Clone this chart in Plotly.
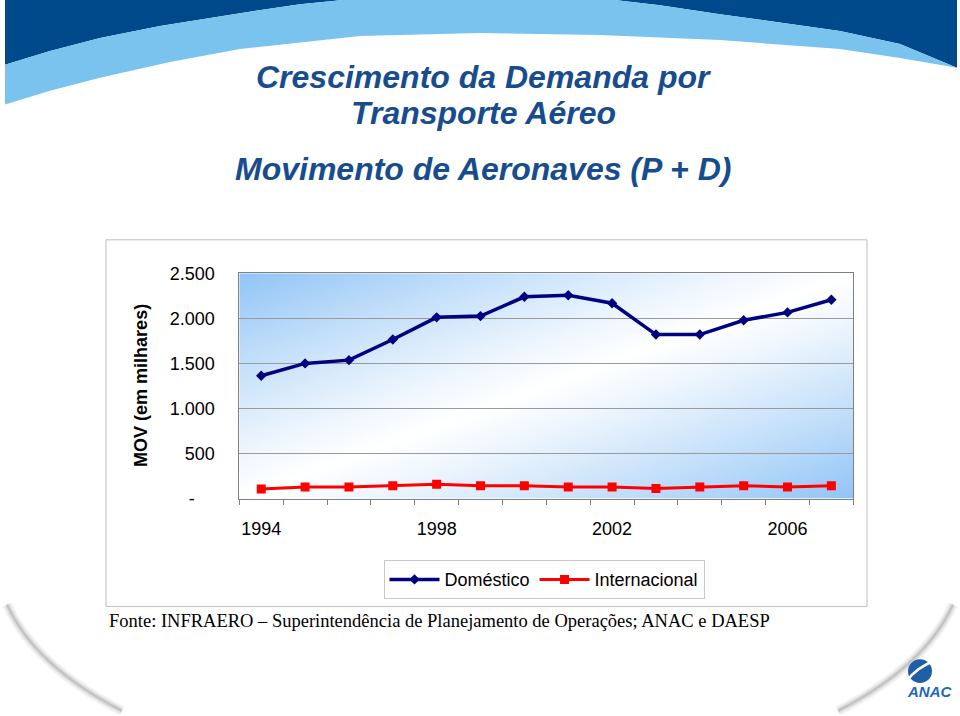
import zlib, struct, base64
import numpy as np
import plotly.graph_objects as go

# ---------------- data ----------------
YEARS = [1994, 1995, 1996, 1997, 1998, 1999, 2000, 2001, 2002, 2003, 2004, 2005, 2006, 2007]
DOMESTICO = [1363, 1500, 1536, 1765, 2011, 2025, 2239, 2257, 2168, 1820, 1820, 1978, 2066, 2206]
INTERNACIONAL = [106, 128, 128, 143, 158, 143, 143, 128, 128, 110, 128, 143, 128, 143]
X_TICKS = [1994, 1998, 2002, 2006]
X_TICK_LABELS = ["1994", "1998", "2002", "2006"]
Y_TICKS = [0, 500, 1000, 1500, 2000, 2500]
Y_TICK_LABELS = ["-\u00a0\u00a0\u00a0\u00a0", "500", "1.000", "1.500", "2.000", "2.500"]

W, H = 960, 716
SANS = "Liberation Sans, Arial, sans-serif"
SERIF = "Liberation Serif, Times New Roman, serif"
TITLE_BLUE = "#174C8E"
DARK_BLUE = "#004A8C"
LIGHT_BLUE = "#79C3EE"

# vertical calibration (observed: rendered y ~= 0.978*y + 7.8)
VS, VO = 0.978, 7.8


def px(x):
    return x / W


def py(y):
    return 1 - ((y - VO) / VS) / H


def path(points, close=True):
    s = "M " + " L ".join(f"{px(x):.5f},{py(y):.5f}" for x, y in points)
    return s + (" Z" if close else "")


# ---------------- gradient background for plot area ----------------
def make_png(arr):
    h, w, _ = arr.shape
    raw = b"".join(b"\x00" + arr[i].astype(np.uint8).tobytes() for i in range(h))

    def chunk(t, d):
        return struct.pack(">I", len(d)) + t + d + struct.pack(">I", zlib.crc32(t + d) & 0xFFFFFFFF)

    return (b"\x89PNG\r\n\x1a\n"
            + chunk(b"IHDR", struct.pack(">IIBBBBB", w, h, 8, 2, 0, 0, 0))
            + chunk(b"IDAT", zlib.compress(raw, 9))
            + chunk(b"IEND", b""))


gw, gh = 308, 114
u = np.linspace(0, 1, gw)[None, :]
v = np.linspace(0, 1, gh)[:, None]
t = (u + v) / 2
f = np.clip(np.abs(t - 0.5) * 2, 0, 1) ** 1.15
blue = np.array([146, 197, 246], dtype=float)
white = np.array([255, 255, 255], dtype=float)
img = white[None, None, :] * (1 - f[..., None]) + blue[None, None, :] * f[..., None]
png_uri = "data:image/png;base64," + base64.b64encode(make_png(np.round(img))).decode()

# ---------------- figure ----------------
fig = go.Figure()
fig.add_trace(go.Scatter(
    x=YEARS, y=DOMESTICO, name="Doméstico", mode="lines+markers",
    line=dict(color="#000080", width=3.5),
    marker=dict(symbol="diamond", size=8, color="#000080"),
))
fig.add_trace(go.Scatter(
    x=YEARS, y=INTERNACIONAL, name="Internacional", mode="lines+markers",
    line=dict(color="#FF0000", width=3),
    marker=dict(symbol="square", size=9, color="#FF0000"),
))

upper = [(5, 63), (50, 49), (100, 36), (160, 24), (240, 11), (300, 2), (360, -4), (420, -8),
         (480, -9), (540, -8), (600, -4), (660, 3), (720, 12), (840, 29), (900, 42), (957, 66)]
lower = [(957, 66), (900, 56), (840, 47), (720, 38), (600, 33), (480, 31), (360, 34),
         (240, 47), (170, 60), (100, 76), (50, 89), (5, 103)]

shapes = []
# header: dark blue band
shapes.append(dict(type="path", xref="paper", yref="paper", layer="below",
                   path=path([(5, -14), (957, -14)] + upper[::-1]),
                   fillcolor=DARK_BLUE, line=dict(width=0)))
# header: light blue band
shapes.append(dict(type="path", xref="paper", yref="paper", layer="below",
                   path=path(upper + lower[1:]),
                   fillcolor=LIGHT_BLUE, line=dict(width=0)))
# bottom shadow arcs
for w_, c_ in [(10, "rgba(0,0,0,0.05)"), (6, "rgba(0,0,0,0.08)"), (2.5, "rgba(0,0,0,0.12)")]:
    shapes.append(dict(type="path", xref="paper", yref="paper", layer="below",
                       path=f"M {px(7)},{py(606)} Q {px(35)},{py(668)} {px(122)},{py(713)}",
                       line=dict(color=c_, width=w_)))
    shapes.append(dict(type="path", xref="paper", yref="paper", layer="below",
                       path=f"M {px(953)},{py(606)} Q {px(925)},{py(668)} {px(838)},{py(713)}",
                       line=dict(color=c_, width=w_)))
# chart box
shapes.append(dict(type="rect", xref="paper", yref="paper", layer="below",
                   x0=px(106), x1=px(867), y0=py(608), y1=py(239),
                   fillcolor="white", line=dict(color="#BEBEBE", width=1)))
# ANAC logo globe
shapes.append(dict(type="circle", xref="paper", yref="paper", layer="above",
                   x0=px(908), x1=px(932), y0=py(685), y1=py(661),
                   fillcolor="#1F5FA8", line=dict(width=0)))
shapes.append(dict(type="path", xref="paper", yref="paper", layer="above",
                   path=f"M {px(906)},{py(684)} Q {px(916)},{py(669)} {px(936)},{py(662)}",
                   line=dict(color="white", width=2.5)))

annotations = [
    dict(text="Crescimento da Demanda por", x=px(483), y=py(75), xref="paper", yref="paper",
         showarrow=False, xanchor="center", yanchor="middle",
         font=dict(family=SANS, size=32, color=TITLE_BLUE, weight="bold", style="italic")),
    dict(text="Transporte Aéreo", x=px(483), y=py(111), xref="paper", yref="paper",
         showarrow=False, xanchor="center", yanchor="middle",
         font=dict(family=SANS, size=32, color=TITLE_BLUE, weight="bold", style="italic")),
    dict(text="Movimento de Aeronaves (P + D)", x=px(483), y=py(168), xref="paper", yref="paper",
         showarrow=False, xanchor="center", yanchor="middle",
         font=dict(family=SANS, size=32, color=TITLE_BLUE, weight="bold", style="italic")),
    dict(text="MOV (em milhares)", x=px(141), y=py(386), xref="paper", yref="paper",
         showarrow=False, xanchor="center", yanchor="middle", textangle=-90,
         font=dict(family=SANS, size=18, color="black", weight="bold")),
    dict(text="Fonte: INFRAERO – Superintendência de Planejamento de Operações; ANAC e DAESP",
         x=px(107), y=py(623), xref="paper", yref="paper",
         showarrow=False, xanchor="left", yanchor="middle",
         font=dict(family=SERIF, size=18.5, color="black")),
    dict(text="ANAC", x=px(929), y=py(693), xref="paper", yref="paper",
         showarrow=False, xanchor="center", yanchor="middle",
         font=dict(family=SANS, size=15, color="#2468B4", weight="bold", style="italic")),
]

fig.update_layout(
    width=W, height=H,
    margin=dict(l=0, r=0, t=0, b=0),
    paper_bgcolor="white", plot_bgcolor="rgba(0,0,0,0)",
    font=dict(family=SANS, size=18, color="black"),
    shapes=shapes, annotations=annotations,
    images=[dict(source=png_uri, xref="x", yref="y", x=1993.5, y=2500, sizex=14, sizey=2500,
                 xanchor="left", yanchor="top", sizing="stretch", layer="below")],
    legend=dict(orientation="h", x=px(544), y=py(581), xanchor="center", yanchor="middle",
                bgcolor="white", bordercolor="#C8C8C8", borderwidth=1,
                font=dict(family=SANS, size=18, color="black"), itemwidth=50),
    showlegend=True,
)
fig.update_xaxes(
    domain=[px(239.3), px(853.3)], range=[1993.5, 2007.5],
    tickmode="array", tickvals=X_TICKS, ticktext=X_TICK_LABELS, ticks="",
    tickfont=dict(family=SANS, size=18, color="black"), ticklabelstandoff=14,
    showline=True, linecolor="#808080", linewidth=1, mirror=True,
    showgrid=False, zeroline=False, fixedrange=True,
    minor=dict(tickmode="array", tickvals=[y - 0.5 for y in YEARS] + [YEARS[-1] + 0.5],
               ticks="outside", ticklen=5, tickcolor="#808080", showgrid=False),
)
fig.update_yaxes(
    domain=[py(499.3), py(272.7)], range=[0, 2500],
    tickmode="array", tickvals=Y_TICKS, ticktext=Y_TICK_LABELS, ticks="",
    tickfont=dict(family=SANS, size=18, color="black"), ticklabelstandoff=20,
    showline=True, linecolor="#808080", linewidth=1, mirror=True,
    showgrid=True, gridcolor="#9A9A9A", gridwidth=1, zeroline=False, fixedrange=True,
)

fig.write_html("out.html")
